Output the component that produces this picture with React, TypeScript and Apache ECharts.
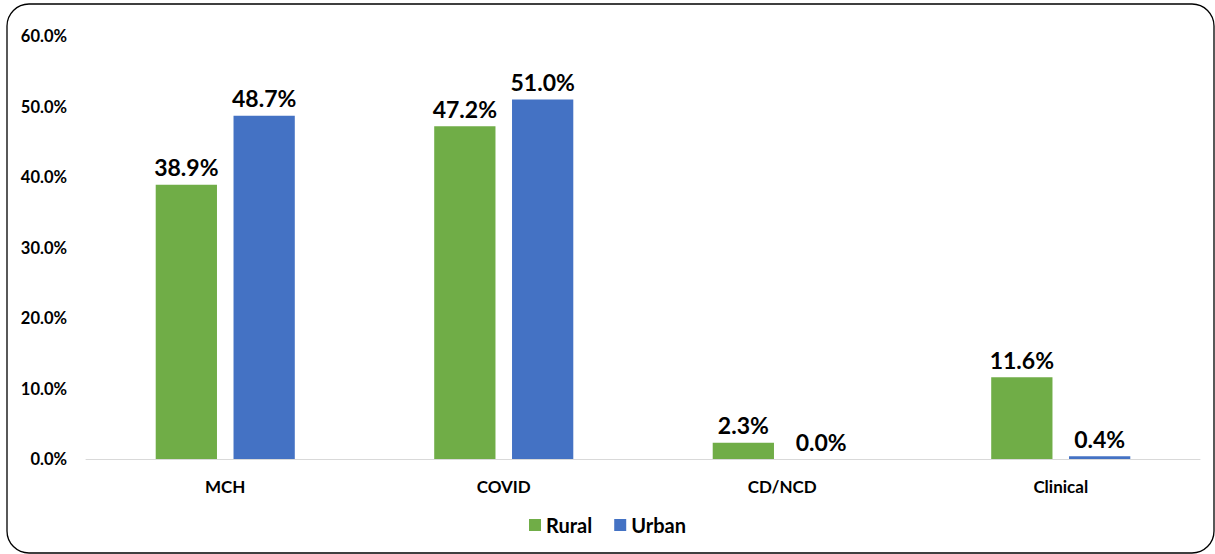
import React, { useEffect, useRef } from "react";
import * as echarts from "echarts";

const categories = ["MCH", "COVID", "CD/NCD", "Clinical"];
const ruralValues = [38.9, 47.2, 2.3, 11.6];
const urbanValues = [48.7, 51.0, 0.0, 0.4];
const seriesNames = ["Rural", "Urban"];

const FONT = "Lato, 'Noto Sans', sans-serif";

export default function App() {
  const ref = useRef<HTMLDivElement>(null);
  useEffect(() => {
    if (!ref.current) return;
    const chart = echarts.init(ref.current, null, { renderer: "svg" });
    const label = {
      show: true,
      position: "top",
      distance: 6,
      fontFamily: FONT,
      fontWeight: "bold",
      fontSize: 23,
      color: "#000",
      formatter: (p: any) => Number(p.value).toFixed(1) + "%",
    };
    chart.setOption({
      animation: false,
      backgroundColor: "#fff",
      textStyle: { fontFamily: FONT },
      graphic: [
        {
          type: "rect",
          shape: { x: 7, y: 4, width: 1207, height: 549, r: 22 },
          style: { fill: "none", stroke: "#000", lineWidth: 1.3 },
          silent: true,
          z: 100,
        },
      ],
      grid: { left: 86, right: 15, top: 36, bottom: 95, containLabel: false },
      legend: {
        data: seriesNames,
        bottom: 14,
        left: "center",
        icon: "rect",
        itemWidth: 12,
        itemHeight: 12,
        itemGap: 22,
        textStyle: { fontFamily: FONT, fontWeight: "bold", fontSize: 20, color: "#000" },
      },
      xAxis: {
        type: "category",
        data: categories,
        axisLine: { lineStyle: { color: "#d9d9d9", width: 1 } },
        axisTick: { show: false },
        axisLabel: { fontFamily: FONT, fontWeight: "bold", fontSize: 17, color: "#000", margin: 19 },
      },
      yAxis: {
        type: "value",
        min: 0,
        max: 60,
        interval: 10,
        axisLine: { show: false },
        axisTick: { show: false },
        splitLine: { show: false },
        axisLabel: {
          fontFamily: FONT,
          fontWeight: "bold",
          fontSize: 16.5,
          color: "#000",
          margin: 19,
          formatter: (v: number) => v.toFixed(1) + "%",
        },
      },
      series: [
        {
          name: seriesNames[0],
          type: "bar",
          data: ruralValues,
          barWidth: "22%",
          barGap: "27%",
          itemStyle: { color: "#70ad47" },
          label,
        },
        {
          name: seriesNames[1],
          type: "bar",
          data: urbanValues,
          barWidth: "22%",
          barGap: "27%",
          itemStyle: { color: "#4472c4" },
          label,
        },
      ],
    });
    return () => chart.dispose();
  }, []);
  return (
    <div
      ref={ref}
      style={{ position: "absolute", left: 0, top: 0, width: 1215, height: 554 }}
    />
  );
}
